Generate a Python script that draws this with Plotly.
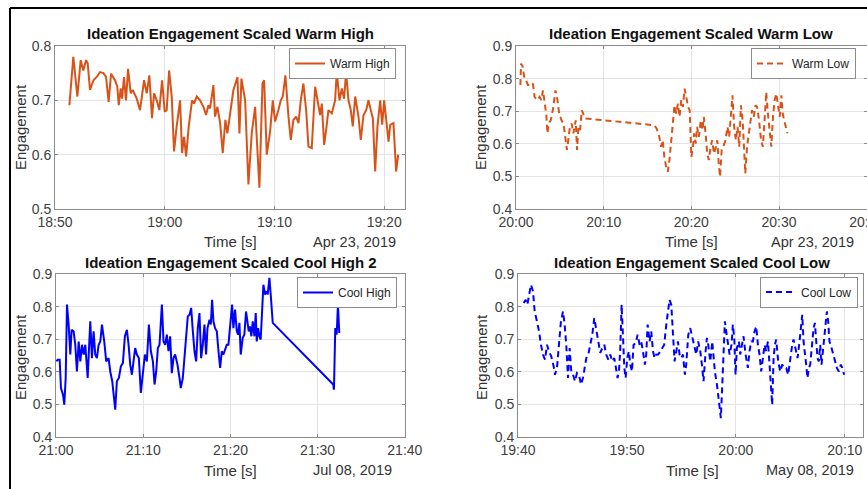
import numpy as np
import pandas as pd
import plotly.graph_objects as go

# ---------------- data (minutes after each panel's start time, engagement) ----------------
warm_high_start = "2019-04-23 18:50:00"
warm_high_min = [
    1.31, 1.67, 2.04, 2.34, 2.58, 2.83, 2.98, 3.19, 3.50, 3.80,
    4.10, 4.41, 4.65, 4.89, 5.11, 5.47, 5.68, 5.81, 5.99, 6.11,
    6.29, 6.47, 6.66, 6.90, 7.08, 7.45, 7.75, 8.12, 8.36, 8.60,
    8.84, 9.03, 9.27, 9.51, 9.76, 10.00, 10.18, 10.40, 10.64, 10.85,
    11.09, 11.40, 11.58, 11.76, 11.95, 12.19, 12.49, 12.67, 12.92, 13.22,
    13.53, 13.77, 13.98, 14.13, 14.44, 14.59, 14.80, 15.05, 15.29, 15.53,
    15.71, 15.96, 16.26, 16.63, 16.81, 16.99, 17.33, 17.63, 17.93, 18.24,
    18.39, 18.63, 18.91, 19.06, 19.30, 19.60, 19.85, 20.06, 20.36, 20.58,
    20.76, 21.00, 21.28, 21.49, 21.73, 21.98, 22.19, 22.40, 22.64, 22.89,
    23.10, 23.40, 23.71, 23.92, 24.16, 24.32, 24.53, 24.71, 24.92, 25.23,
    25.53, 25.68, 25.93, 26.14, 26.35, 26.53, 26.75, 26.96, 27.14, 27.36,
    27.66, 27.87, 28.12, 28.36, 28.57, 28.78, 28.97, 29.18, 29.39, 29.64,
    29.82, 30.00, 30.18, 30.40, 30.55, 30.85, 31.09, 31.28,
]
warm_high_val = [
    0.691, 0.780, 0.707, 0.774, 0.755, 0.774, 0.768, 0.719, 0.737, 0.743,
    0.752, 0.750, 0.743, 0.697, 0.749, 0.737, 0.725, 0.691, 0.722, 0.703,
    0.743, 0.700, 0.758, 0.713, 0.719, 0.703, 0.682, 0.737, 0.713, 0.746,
    0.667, 0.713, 0.700, 0.682, 0.737, 0.679, 0.682, 0.755, 0.707, 0.606,
    0.652, 0.700, 0.603, 0.633, 0.597, 0.652, 0.700, 0.694, 0.707, 0.700,
    0.688, 0.673, 0.691, 0.685, 0.728, 0.670, 0.688, 0.658, 0.603, 0.664,
    0.639, 0.676, 0.719, 0.743, 0.639, 0.740, 0.700, 0.545, 0.639, 0.688,
    0.639, 0.539, 0.731, 0.737, 0.600, 0.642, 0.700, 0.661, 0.682, 0.700,
    0.707, 0.746, 0.670, 0.627, 0.664, 0.670, 0.658, 0.700, 0.731, 0.682,
    0.615, 0.612, 0.725, 0.700, 0.673, 0.694, 0.618, 0.645, 0.682, 0.676,
    0.700, 0.752, 0.700, 0.722, 0.703, 0.752, 0.700, 0.682, 0.652, 0.707,
    0.670, 0.627, 0.673, 0.682, 0.700, 0.682, 0.667, 0.569, 0.652, 0.700,
    0.655, 0.700, 0.667, 0.624, 0.655, 0.658, 0.569, 0.600,
]

warm_low_start = "2019-04-23 20:00:00"
warm_low_min = [
    0.50, 0.58, 0.77, 0.96, 1.15, 1.35, 1.73, 1.92, 2.12, 2.42,
    2.69, 2.88, 3.08, 3.27, 3.46, 3.58, 3.73, 3.96, 4.23, 4.50,
    4.73, 4.92, 5.19, 5.42, 5.65, 5.81, 5.96, 6.15, 6.35, 6.54,
    6.81, 6.96, 7.12, 7.31, 7.50, 7.69, 7.88, 15.77, 16.04, 16.35,
    16.54, 16.73, 16.92, 17.12, 17.31, 17.50, 17.69, 17.88, 18.08, 18.27,
    18.46, 18.65, 18.85, 19.04, 19.23, 19.42, 19.62, 19.81, 20.00, 20.19,
    20.31, 20.50, 20.65, 20.85, 21.08, 21.27, 21.42, 21.62, 21.81, 22.00,
    22.19, 22.38, 22.58, 22.81, 22.96, 23.12, 23.27, 23.46, 23.65, 23.88,
    24.12, 24.31, 24.50, 24.69, 24.88, 25.08, 25.27, 25.46, 25.65, 25.85,
    26.04, 26.15, 26.35, 26.54, 26.73, 26.92, 27.12, 27.31, 27.50, 27.69,
    27.96, 28.15, 28.35, 28.54, 28.73, 28.92, 29.12, 29.31, 29.50, 29.69,
    29.88, 30.08, 30.27, 30.42, 30.58, 30.77, 30.96,
]
warm_low_val = [
    0.780, 0.846, 0.836, 0.800, 0.795, 0.780, 0.780, 0.785, 0.744, 0.734,
    0.744, 0.734, 0.764, 0.723, 0.688, 0.632, 0.662, 0.672, 0.708, 0.764,
    0.734, 0.693, 0.672, 0.662, 0.611, 0.581, 0.611, 0.652, 0.662, 0.632,
    0.672, 0.581, 0.652, 0.642, 0.703, 0.693, 0.678, 0.657, 0.647, 0.621,
    0.591, 0.611, 0.560, 0.530, 0.514, 0.550, 0.611, 0.672, 0.718, 0.693,
    0.723, 0.683, 0.734, 0.713, 0.769, 0.744, 0.713, 0.703, 0.560, 0.591,
    0.632, 0.601, 0.652, 0.621, 0.672, 0.642, 0.683, 0.632, 0.570, 0.550,
    0.591, 0.611, 0.570, 0.591, 0.611, 0.540, 0.499, 0.581, 0.591, 0.611,
    0.652, 0.621, 0.693, 0.749, 0.652, 0.611, 0.652, 0.591, 0.718, 0.672,
    0.570, 0.509, 0.591, 0.632, 0.672, 0.703, 0.683, 0.718, 0.713, 0.678,
    0.611, 0.591, 0.672, 0.759, 0.693, 0.632, 0.591, 0.683, 0.734, 0.754,
    0.723, 0.683, 0.749, 0.693, 0.672, 0.652, 0.632,
]

cool_high_start = "2019-07-08 21:00:00"
cool_high_min = [
    0.04, 0.19, 0.42, 0.57, 0.80, 0.95, 1.11, 1.26, 1.45, 1.64,
    1.79, 2.02, 2.21, 2.40, 2.60, 2.79, 2.98, 3.17, 3.36, 3.63,
    3.93, 4.12, 4.31, 4.50, 4.69, 4.89, 5.08, 5.27, 5.53, 5.76,
    6.03, 6.22, 6.45, 6.60, 6.79, 6.98, 7.21, 7.44, 7.67, 7.90,
    8.13, 8.32, 8.51, 8.70, 8.89, 9.08, 9.27, 9.50, 9.73, 9.96,
    10.19, 10.42, 10.65, 10.88, 11.11, 11.30, 11.49, 11.68, 11.87, 12.14,
    12.33, 12.52, 12.71, 12.90, 13.09, 13.28, 13.47, 13.66, 13.93, 14.16,
    14.31, 14.54, 14.73, 14.92, 15.11, 15.31, 15.50, 15.69, 15.88, 16.07,
    16.26, 16.45, 16.64, 16.83, 17.02, 17.21, 17.37, 17.60, 17.75, 17.90,
    18.05, 18.24, 18.44, 18.63, 18.82, 19.01, 19.20, 19.39, 19.58, 19.77,
    19.96, 20.19, 20.34, 20.53, 20.73, 20.88, 21.03, 21.18, 21.41, 21.60,
    21.79, 21.95, 22.10, 22.25, 22.40, 22.56, 22.75, 22.90, 23.02, 23.17,
    23.32, 23.47, 23.63, 23.78, 23.97, 24.16, 24.27, 24.47, 24.62, 24.85,
    31.79, 31.87, 32.02, 32.18, 32.33, 32.48,
]
cool_high_val = [
    0.632, 0.637, 0.637, 0.550, 0.530, 0.499, 0.581, 0.806, 0.745, 0.653,
    0.729, 0.724, 0.683, 0.601, 0.693, 0.632, 0.683, 0.653, 0.683, 0.581,
    0.755, 0.642, 0.724, 0.653, 0.642, 0.683, 0.693, 0.745, 0.693, 0.632,
    0.642, 0.601, 0.571, 0.530, 0.484, 0.571, 0.581, 0.617, 0.627, 0.709,
    0.729, 0.683, 0.622, 0.591, 0.642, 0.673, 0.653, 0.642, 0.535, 0.601,
    0.653, 0.632, 0.745, 0.663, 0.632, 0.561, 0.601, 0.673, 0.683, 0.806,
    0.693, 0.683, 0.714, 0.663, 0.709, 0.596, 0.642, 0.653, 0.622, 0.581,
    0.550, 0.581, 0.653, 0.719, 0.770, 0.775, 0.796, 0.724, 0.663, 0.632,
    0.734, 0.780, 0.642, 0.683, 0.745, 0.653, 0.734, 0.760, 0.745, 0.821,
    0.755, 0.734, 0.724, 0.663, 0.612, 0.663, 0.653, 0.668, 0.683, 0.683,
    0.734, 0.806, 0.734, 0.791, 0.724, 0.714, 0.750, 0.653, 0.704, 0.714,
    0.785, 0.750, 0.724, 0.739, 0.709, 0.755, 0.709, 0.780, 0.693, 0.734,
    0.709, 0.699, 0.775, 0.867, 0.837, 0.847, 0.837, 0.888, 0.837, 0.750,
    0.561, 0.545, 0.734, 0.714, 0.806, 0.719,
]

cool_low_start = "2019-05-08 19:40:00"
cool_low_min = [
    0.52, 0.70, 0.86, 1.01, 1.19, 1.38, 1.53, 1.74, 1.93, 2.11,
    2.29, 2.48, 2.66, 2.84, 3.06, 3.27, 3.39, 3.58, 3.76, 3.94,
    4.13, 4.28, 4.43, 4.59, 4.74, 4.89, 5.05, 5.23, 5.41, 5.60,
    5.78, 5.96, 6.12, 6.27, 6.45, 6.64, 6.82, 7.00, 7.19, 7.37,
    7.55, 7.74, 7.92, 8.10, 8.29, 8.47, 8.65, 8.84, 9.02, 9.14,
    9.27, 9.39, 9.51, 9.63, 9.76, 9.88, 10.03, 10.18, 10.31, 10.46,
    10.61, 10.80, 10.98, 11.16, 11.31, 11.47, 11.65, 11.77, 11.90, 12.08,
    12.23, 12.39, 12.54, 12.69, 12.87, 13.06, 13.24, 13.42, 13.61, 13.76,
    13.91, 14.07, 14.22, 14.37, 14.53, 14.68, 14.83, 14.98, 15.14, 15.32,
    15.44, 15.63, 15.81, 15.99, 16.18, 16.36, 16.54, 16.73, 16.88, 17.03,
    17.22, 17.34, 17.46, 17.65, 17.83, 17.95, 18.07, 18.26, 18.44, 18.62,
    18.75, 18.87, 18.99, 19.11, 19.27, 19.42, 19.60, 19.72, 19.85, 19.97,
    20.09, 20.28, 20.40, 20.58, 20.70, 20.89, 21.10, 21.25, 21.41, 21.56,
    21.71, 21.87, 22.02, 22.17, 22.32, 22.48, 22.63, 22.78, 22.94, 23.09,
    23.21, 23.33, 23.46, 23.58, 23.70, 23.88, 24.07, 24.25, 24.43, 24.62,
    24.80, 24.98, 25.17, 25.29, 25.47, 25.66, 25.84, 25.96, 26.09, 26.21,
    26.33, 26.45, 26.57, 26.70, 26.82, 27.00, 27.13, 27.25, 27.37, 27.49,
    27.61, 27.74, 27.86, 27.98, 28.17, 28.35, 28.47, 28.59, 28.78, 28.96,
    29.14, 29.27, 29.45, 29.63, 29.76, 29.94,
]
cool_low_val = [
    0.811, 0.821, 0.806, 0.837, 0.867, 0.847, 0.785, 0.755, 0.724, 0.683,
    0.653, 0.637, 0.683, 0.663, 0.647, 0.617, 0.591, 0.612, 0.683, 0.755,
    0.785, 0.745, 0.683, 0.581, 0.673, 0.601, 0.591, 0.571, 0.596, 0.591,
    0.561, 0.581, 0.612, 0.642, 0.653, 0.683, 0.714, 0.765, 0.724, 0.683,
    0.658, 0.673, 0.683, 0.653, 0.637, 0.653, 0.632, 0.642, 0.607, 0.581,
    0.601, 0.673, 0.806, 0.704, 0.612, 0.581, 0.642, 0.663, 0.622, 0.601,
    0.683, 0.688, 0.714, 0.683, 0.693, 0.663, 0.622, 0.653, 0.745, 0.693,
    0.724, 0.663, 0.642, 0.653, 0.653, 0.663, 0.673, 0.683, 0.745, 0.785,
    0.821, 0.806, 0.704, 0.632, 0.663, 0.693, 0.653, 0.642, 0.653, 0.591,
    0.622, 0.714, 0.734, 0.704, 0.683, 0.653, 0.693, 0.663, 0.622, 0.571,
    0.663, 0.704, 0.683, 0.632, 0.693, 0.642, 0.601, 0.561, 0.509, 0.458,
    0.561, 0.663, 0.755, 0.724, 0.683, 0.653, 0.683, 0.745, 0.704, 0.591,
    0.673, 0.693, 0.653, 0.683, 0.709, 0.653, 0.612, 0.663, 0.693, 0.693,
    0.724, 0.739, 0.683, 0.653, 0.601, 0.642, 0.683, 0.663, 0.693, 0.622,
    0.561, 0.499, 0.642, 0.683, 0.699, 0.632, 0.601, 0.622, 0.612, 0.612,
    0.591, 0.642, 0.683, 0.699, 0.673, 0.642, 0.693, 0.745, 0.775, 0.693,
    0.663, 0.622, 0.581, 0.612, 0.622, 0.683, 0.734, 0.750, 0.693, 0.642,
    0.632, 0.683, 0.622, 0.663, 0.734, 0.785, 0.755, 0.693, 0.673, 0.653,
    0.632, 0.612, 0.601, 0.622, 0.612, 0.591,
]

titles = [
    "Ideation Engagement Scaled Warm High",
    "Ideation Engagement Scaled Warm Low",
    "Ideation Engagement Scaled Cool High 2",
    "Ideation Engagement Scaled Cool Low",
]
series_names = ["Warm High", "Warm Low", "Cool High", "Cool Low"]
date_labels = ["Apr 23, 2019", "Apr 23, 2019", "Jul 08, 2019", "May 08, 2019"]
x_ranges = [
    ("2019-04-23 18:50:00", "2019-04-23 19:21:54"),
    ("2019-04-23 20:00:00", "2019-04-23 20:40:02"),
    ("2019-07-08 21:00:00", "2019-07-08 21:40:01"),
    ("2019-05-08 19:40:00", "2019-05-08 20:11:40"),
]
y_ranges = [(0.5, 0.8), (0.4, 0.9), (0.4, 0.9), (0.4, 0.9)]
x_label = "Time [s]"
y_label = "Engagement"

starts = [warm_high_start, warm_low_start, cool_high_start, cool_low_start]
mins = [warm_high_min, warm_low_min, cool_high_min, cool_low_min]
vals = [warm_high_val, warm_low_val, cool_high_val, cool_low_val]

# ---------------- styling / layout ----------------
W, H = 867, 489
ORANGE = "#D95319"
BLUE = "#0000FF"
colors = [ORANGE, ORANGE, BLUE, BLUE]
dashes = ["solid", "6px,4px", "solid", "6px,4px"]
FONT = "Liberation Sans, Arial, sans-serif"
TXT = "#333333"

# plot-area boxes in pixels (left, right, top, bottom)
boxes = [(55, 405, 46, 209), (516, 867, 46, 209), (56, 405, 274, 437), (518, 863, 274, 437)]
legend_pos = [(396, 63.5), (856, 63.5), (397, 292.5), (858, 292)]   # right edge, vertical centre
title_pos = [(231, 33), (691, 33), (231, 262), (692, 262)]
ylab_pos = [(20, 127), (480, 127), (20, 357), (481, 357)]
xlab_pos = [(231, 242), (691, 242), (231, 470), (692, 470)]
date_pos = [(398, 242), (856, 242), (394, 470), (856, 470)]


def px(x):
    return x / W


def py(y):
    return 1 - y / H


fig = go.Figure()
annotations = []
layout = {}
for i in range(4):
    sfx = "" if i == 0 else str(i + 1)
    t = pd.Timestamp(starts[i]) + pd.to_timedelta(np.array(mins[i]) * 60.0, unit="s")
    fig.add_trace(go.Scatter(
        x=t, y=vals[i], mode="lines", name=series_names[i],
        line=dict(color=colors[i], width=2, dash=dashes[i]),
        xaxis="x" + sfx, yaxis="y" + sfx, legend="legend" + sfx,
    ))
    l, r, tp, b = boxes[i]
    layout["xaxis" + sfx] = dict(
        domain=[px(l), min(px(r), 1.0)], anchor="y" + sfx, type="date",
        range=list(x_ranges[i]), tick0=x_ranges[i][0], dtick=600000, tickformat="%H:%M",
        showline=True, linecolor="#8c8c8c", linewidth=1, mirror="ticks",
        ticks="inside", ticklen=3, tickcolor="#8c8c8c",
        showgrid=True, gridcolor="#e3e3e3", gridwidth=1, zeroline=False,
        tickfont=dict(family=FONT, size=14, color="#404040"),
        ticklabeloverflow="allow",
    )
    layout["yaxis" + sfx] = dict(
        domain=[py(b), py(tp)], anchor="x" + sfx, range=list(y_ranges[i]),
        dtick=0.1, tickformat=".1f",
        showline=True, linecolor="#8c8c8c", linewidth=1, mirror="ticks",
        ticks="inside", ticklen=3, tickcolor="#8c8c8c",
        showgrid=True, gridcolor="#e3e3e3", gridwidth=1, zeroline=False,
        tickfont=dict(family=FONT, size=14, color="#404040"),
        ticklabeloverflow="allow",
    )
    lx, ly = legend_pos[i]
    layout["legend" + sfx] = dict(
        x=px(lx), y=py(ly), xanchor="right", yanchor="middle", xref="paper", yref="paper",
        bgcolor="white", bordercolor="#8c8c8c", borderwidth=1,
        font=dict(family=FONT, size=12, color="#262626"),
    )
    tx, ty = title_pos[i]
    annotations.append(dict(x=px(tx), y=py(ty), xref="paper", yref="paper", text="<b>" + titles[i] + "</b>",
                            showarrow=False, font=dict(family=FONT, size=15, color="#111111"),
                            xanchor="center", yanchor="middle"))
    ax_, ay_ = ylab_pos[i]
    annotations.append(dict(x=px(ax_), y=py(ay_), xref="paper", yref="paper", text=y_label, textangle=-90,
                            showarrow=False, font=dict(family=FONT, size=15, color=TXT),
                            xanchor="center", yanchor="middle"))
    bx, by = xlab_pos[i]
    annotations.append(dict(x=px(bx), y=py(by), xref="paper", yref="paper", text=x_label,
                            showarrow=False, font=dict(family=FONT, size=15, color=TXT),
                            xanchor="center", yanchor="middle"))
    dx, dy = date_pos[i]
    annotations.append(dict(x=px(dx), y=py(dy), xref="paper", yref="paper", text=date_labels[i],
                            showarrow=False, font=dict(family=FONT, size=14.5, color=TXT),
                            xanchor="right", yanchor="middle"))

shapes = [
    dict(type="line", xref="paper", yref="paper", x0=px(10), x1=1.0, y0=py(8), y1=py(8),
         line=dict(color="black", width=2)),
    dict(type="line", xref="paper", yref="paper", x0=px(10), x1=px(10), y0=py(8), y1=0,
         line=dict(color="black", width=2)),
]

fig.update_layout(
    width=W, height=H, margin=dict(l=0, r=0, t=0, b=0, pad=0, autoexpand=False),
    paper_bgcolor="white", plot_bgcolor="white",
    font=dict(family=FONT, color=TXT),
    annotations=annotations, shapes=shapes, showlegend=True,
    **layout,
)
fig.write_html(
    "out.html",
    config={"displayModeBar": False},
    post_script="document.body.style.margin='0';document.body.style.overflow='hidden';",
)
